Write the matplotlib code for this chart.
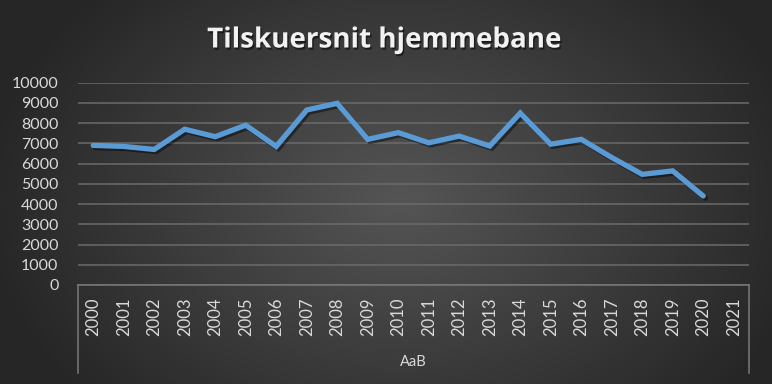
import numpy as np
import matplotlib
matplotlib.use("Agg")
import matplotlib.pyplot as plt
import matplotlib.patheffects as pe

# Data
years = [str(y) for y in range(2000, 2022)]
attendance = [6900, 6850, 6700, 7700, 7330, 7900, 6850, 8650, 8980, 7200,
              7530, 7030, 7360, 6870, 8500, 6960, 7200, 6300, 5470, 5640, 4400, np.nan]
group_label = "AaB"
yticks = list(range(0, 10001, 1000))

W, H = 772, 384
fig = plt.figure(figsize=(W / 100, H / 100), dpi=100)

# Radial gradient background
bg = fig.add_axes([0, 0, 1, 1], zorder=-10)
yy, xx = np.mgrid[0:H, 0:W]
r = np.sqrt(((xx - 400) / 420.0) ** 2 + ((yy - 200) / 300.0) ** 2)
r = np.clip(r, 0, 1)
c0, c1 = np.array([0x55, 0x55, 0x55]) / 255, np.array([0x26, 0x26, 0x26]) / 255
img = c0[None, None, :] * (1 - r[..., None]) + c1[None, None, :] * r[..., None]
bg.imshow(img, aspect="auto", extent=[0, 1, 0, 1])
bg.axis("off")

# Plot area
left, right, top, bottom = 78, 749, 82.7, 285
ax = fig.add_axes([left / W, (H - bottom) / H, (right - left) / W, (bottom - top) / H])
ax.set_facecolor("none")
x = np.arange(len(years))
ax.plot(x, attendance, color="#5B9BD5", linewidth=3.8, solid_capstyle="round",
        solid_joinstyle="miter",
        path_effects=[pe.SimpleLineShadow(offset=(1.5, -1.5), shadow_color="black", alpha=0.45),
                      pe.Normal()])
ax.set_xlim(-0.5, len(years) - 0.5)
ax.set_ylim(0, 10000)
ax.set_yticks(yticks)
ax.set_xticks(x)
ax.set_xticklabels(years, rotation=90, va="top")
ax.grid(axis="y", color="#6b6b6b", linewidth=1.1)
ax.set_axisbelow(True)
for s in ["top", "right", "left"]:
    ax.spines[s].set_visible(False)
ax.spines["bottom"].set_color("#7a7a7a")
ax.spines["bottom"].set_linewidth(1.1)
ax.tick_params(axis="y", length=0, pad=14, labelsize=11.5, labelcolor="#d9d9d9")
ax.tick_params(axis="x", length=0, pad=9, labelsize=12, labelcolor="#d9d9d9")
for lab in ax.get_xticklabels() + ax.get_yticklabels():
    lab.set_fontfamily("Lato")

# Multi-level category box
depth = (373 - bottom) / (bottom - top)
for xa in (0, 1):
    ax.plot([xa, xa], [0, -depth], transform=ax.transAxes, clip_on=False,
            color="#7a7a7a", linewidth=1.1)
ax.text(0.5, -(362 - bottom) / (bottom - top), group_label, transform=ax.transAxes,
        ha="center", va="center", fontsize=10.5, color="#d9d9d9", family="Lato")

# Title
fig.text(384 / W, 1 - 40 / H, "Tilskuersnit hjemmebane", ha="center", va="center",
         fontsize=20, fontweight="bold", color="#f2f2f2", family="Open Sans",
         path_effects=[pe.withSimplePatchShadow(offset=(1, -1.5), shadow_rgbFace="black", alpha=0.5)])

fig.savefig("out.png", dpi=100)
